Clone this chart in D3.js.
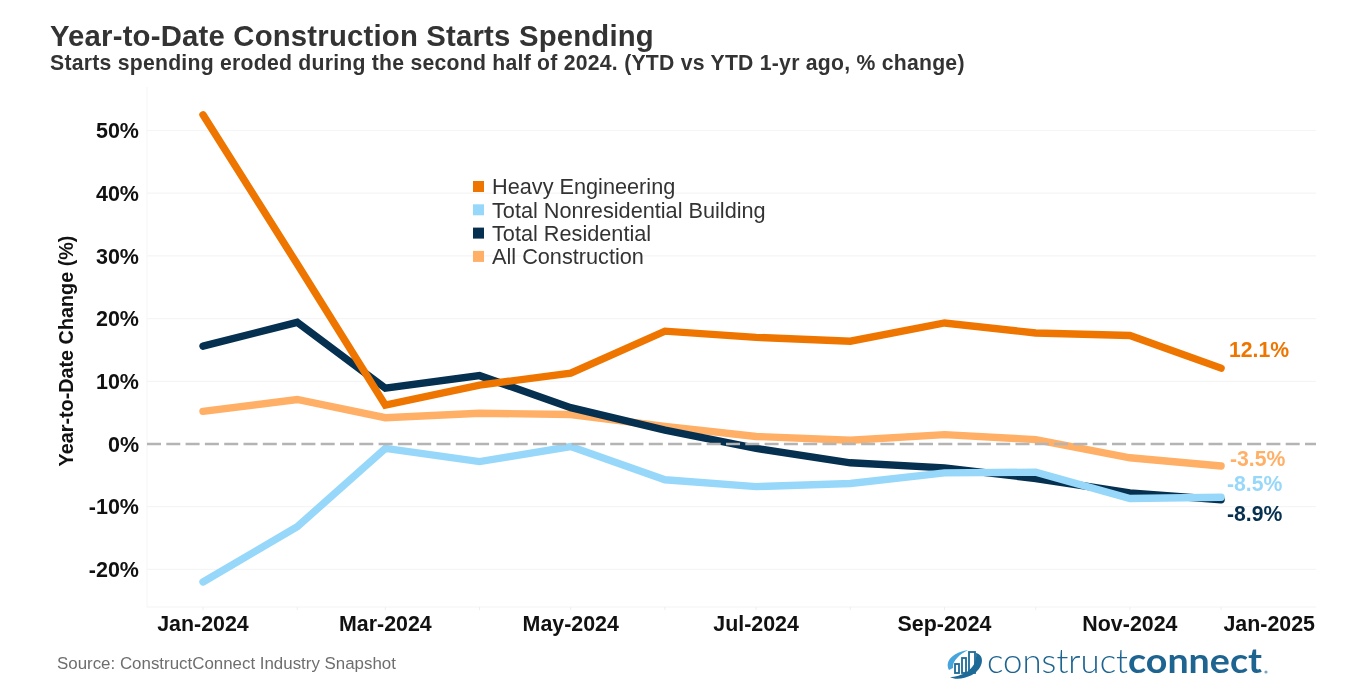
<!DOCTYPE html>
<html><head><meta charset="utf-8">
<script src="https://cdn.jsdelivr.net/npm/d3@7"></script>
<style>html,body{margin:0;padding:0;background:#fff}svg{display:block;filter:blur(0.35px)}text{font-family:"Liberation Sans",Arial,sans-serif}</style>
</head><body><svg id="c" width="1360" height="680"></svg>
<script>
const months = ["2024-01-01","2024-02-01","2024-03-01","2024-04-01","2024-05-01","2024-06-01","2024-07-01","2024-08-01","2024-09-01","2024-10-01","2024-11-01","2024-12-01"];
const heavyEngineering = [52.5,28.7,6.2,9.4,11.3,18.0,17.0,16.4,19.3,17.7,17.3,12.1];
const totalNonresidential = [-22.0,-13.2,-0.7,-2.8,-0.4,-5.7,-6.8,-6.3,-4.6,-4.5,-8.7,-8.5];
const totalResidential = [15.6,19.4,8.9,10.9,5.8,2.2,-0.7,-3.0,-3.8,-5.5,-7.8,-8.9];
const allConstruction = [5.2,7.1,4.2,4.9,4.7,2.8,1.2,0.6,1.5,0.7,-2.2,-3.5];
const yTicks = [-20,-10,0,10,20,30,40,50];
const xTicks = ["2024-01-01","2024-03-01","2024-05-01","2024-07-01","2024-09-01","2024-11-01","2025-01-01"];
const legendNames = ["Heavy Engineering","Total Nonresidential Building","Total Residential","All Construction"];
const endLabels = ["12.1%","-8.5%","-8.9%","-3.5%"];

const C = {heavy:"#ee7600",non:"#97d8fa",res:"#06304f",all:"#ffaf66"};
const series = [
  {name:legendNames[3],v:allConstruction,c:C.all,label:endLabels[3],lx:1230,ly:458},
  {name:legendNames[2],v:totalResidential,c:C.res,label:endLabels[2],lx:1227,ly:513},
  {name:legendNames[0],v:heavyEngineering,c:C.heavy,label:endLabels[0],lx:1229,ly:349},
  {name:legendNames[1],v:totalNonresidential,c:C.non,label:endLabels[1],lx:1227,ly:483}
];
const parse = d3.utcParse("%Y-%m-%d");
const svg = d3.select("#c");
const x = d3.scaleUtc().domain([parse("2024-01-01"),parse("2025-01-01")]).range([203,1315.3]);
const y = d3.scaleLinear().domain([0,50]).range([444,130.5]);
const L=147,R=1316,T=87,B=607;

svg.append("g").selectAll("line").data(yTicks.filter(d=>d!==0)).join("line")
  .attr("x1",L).attr("x2",R).attr("y1",y).attr("y2",y).attr("stroke","#f5f5f5").attr("stroke-width",1.2);
svg.append("line").attr("x1",L).attr("x2",L).attr("y1",T).attr("y2",B).attr("stroke","#f5f5f5").attr("stroke-width",1);
svg.append("line").attr("x1",L).attr("x2",R).attr("y1",B).attr("y2",B).attr("stroke","#f3f3f3").attr("stroke-width",1);
svg.append("g").selectAll("line").data(months).join("line")
  .attr("x1",d=>x(parse(d))).attr("x2",d=>x(parse(d))).attr("y1",B).attr("y2",B+3).attr("stroke","#eee");

const line = d3.line().x((d,i)=>x(parse(months[i]))).y(d=>y(d));
svg.append("g").selectAll("path").data(series).join("path")
  .attr("d",d=>line(d.v)).attr("fill","none").attr("stroke",d=>d.c)
  .attr("stroke-width",7.4).attr("stroke-linejoin","miter").attr("stroke-linecap","round");

svg.append("line").attr("x1",L).attr("x2",R).attr("y1",y(0)).attr("y2",y(0))
  .attr("stroke","#b4b4b4").attr("stroke-width",2.4).attr("stroke-dasharray","14 5.3");

svg.append("g").selectAll("text").data(yTicks).join("text")
  .attr("x",139).attr("y",d=>y(d)).attr("dy","0.36em").attr("text-anchor","end")
  .attr("font-size",21.5).attr("font-weight",700).attr("fill","#111")
  .text(d=>d+"%");

svg.append("g").selectAll("text").data(xTicks).join("text")
  .attr("x",(d,i)=>i===xTicks.length-1?1315:x(parse(d))).attr("y",631)
  .attr("text-anchor",(d,i)=>i===xTicks.length-1?"end":"middle")
  .attr("font-size",21.4).attr("font-weight",700).attr("fill","#111")
  .text(d=>d3.utcFormat("%b-%Y")(parse(d)));

svg.append("text").attr("transform","translate(73,351) rotate(-90)").attr("text-anchor","middle")
  .attr("font-size",19.8).attr("font-weight",700).attr("fill","#111").text("Year-to-Date Change (%)");

svg.append("text").attr("x",50).attr("y",46).attr("font-size",29.3).attr("font-weight",700).attr("fill","#333").attr("letter-spacing",0.2).text("Year-to-Date Construction Starts Spending");
svg.append("text").attr("x",50).attr("y",70).attr("font-size",21.2).attr("font-weight",700).attr("fill","#333").attr("letter-spacing",0.25).text("Starts spending eroded during the second half of 2024. (YTD vs YTD 1-yr ago, % change)");

const legendColors = [C.heavy,C.non,C.res,C.all];
const lg = svg.append("g").selectAll("g").data(legendNames).join("g").attr("transform",(d,i)=>`translate(473,${186.5+i*23.3})`);
lg.append("rect").attr("x",0).attr("y",-5.5).attr("width",11).attr("height",11).attr("fill",(d,i)=>legendColors[i]);
lg.append("text").attr("x",19).attr("y",0).attr("dy","0.36em").attr("font-size",21.7).attr("fill","#333").text(d=>d);

svg.append("g").selectAll("text").data(series).join("text")
  .attr("x",d=>d.lx).attr("y",d=>d.ly).attr("dy","0.36em")
  .attr("font-size",21.2).attr("font-weight",700).attr("fill",d=>d.c).text(d=>d.label);

svg.append("text").attr("x",57).attr("y",669).attr("font-size",16.9).attr("fill","#6e6e6e").text("Source: ConstructConnect Industry Snapshot");

// logo
const logo = svg.append("g");
logo.append("path").attr("d","M949 670 C944 660 955 652 968 650 C960 654 952 661 953 668 Z").attr("fill","#45a5dc");
logo.selectAll("rect").data([[955,664,4,9],[962,658,4,15],[969,652,6,21]]).join("rect")
  .attr("x",d=>d[0]).attr("y",d=>d[1]).attr("width",d=>d[2]).attr("height",d=>d[3]).attr("fill","none").attr("stroke","#1d6a96").attr("stroke-width",1.8);
logo.append("path").attr("d","M976 653 C985 655 984 668 972 675 C964 679 955 680 950 677 C960 677 978 670 976 653 Z").attr("fill","#1d6a96");
logo.append("text").attr("x",987).attr("y",672.5).attr("font-size",34).attr("fill","#1d6490")
  .attr("font-weight",300).attr("textLength",141).attr("lengthAdjust","spacingAndGlyphs").attr("style","font-family:Lato,sans-serif").text("construct");
logo.append("text").attr("x",1128).attr("y",672.5).attr("font-size",34).attr("fill","#1d6490")
  .attr("font-weight",700).attr("textLength",134).attr("lengthAdjust","spacingAndGlyphs").attr("style","font-family:Lato,sans-serif").text("connect");
logo.append("circle").attr("cx",1266).attr("cy",672).attr("r",1.6).attr("fill","#7aa6c2");
</script></body></html>
